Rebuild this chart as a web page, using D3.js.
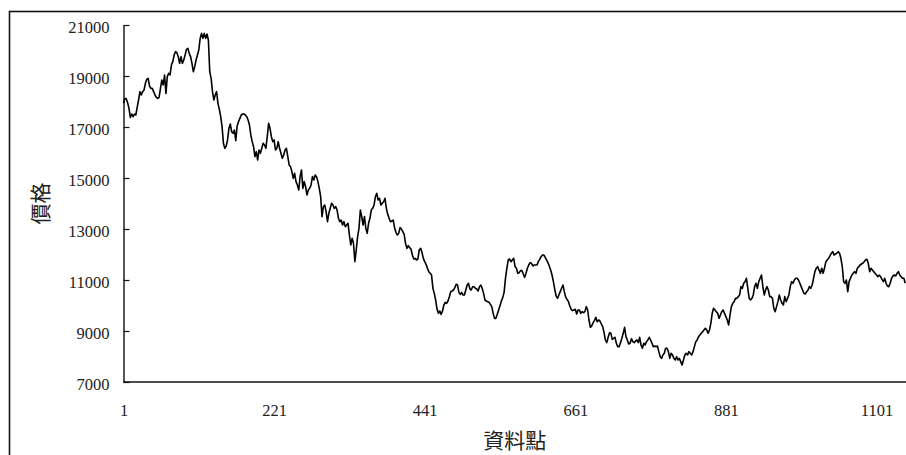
<!DOCTYPE html>
<html>
<head>
<meta charset="utf-8">
<script src="https://cdn.jsdelivr.net/npm/d3@7/dist/d3.min.js"></script>
<style>
  html, body { margin: 0; padding: 0; background: #fff; overflow: hidden; }
  svg { display: block; }
  .num { font-family: "Liberation Serif", "Times New Roman", serif; font-size: 16.5px; fill: #222; }
  .ttl { font-family: "Noto Sans CJK TC", "Noto Sans CJK SC", sans-serif; font-size: 21px; fill: #222; }
</style>
</head>
<body>
<svg id="chart" width="906" height="455"></svg>
<script>
// Price series, one value every second data point starting at point 1
const firstPoint = 1;
const pointStep = 2;
const price = [
  17928, 18111, 18111, 17954, 17732, 17379, 17510, 17405, 17510, 17470,
  17771, 18059, 18386, 18255, 18386, 18451, 18712, 18869, 18908, 18608,
  18516, 18516, 18386, 18255, 18163, 18124, 18163, 18516, 18843, 18647,
  19039, 18320, 18974, 19104,
  19039, 19431, 19562, 19823, 19954, 19915, 19758, 19497, 19758, 19497,
  19627, 19823, 20046, 20085, 19889, 19758, 19497, 19170, 19366, 19627,
  19823, 20020, 20477, 20673, 20477, 20673, 20477, 20647, 20412, 19170,
  18908, 18386, 18059, 18255, 18386, 17928, 17693, 17405,
  17013, 16359, 16163, 16255, 16490, 16948, 17118, 16817, 16752, 16882,
  16464, 17039, 17209, 17340, 17470, 17510, 17510, 17470, 17405, 17274, 17078,
  16687, 16425, 16229, 15837, 16033, 15706, 16098, 15968, 16164, 16360,
  16294, 16164, 16621, 17144, 16948, 16621, 16425, 16491, 16098, 16164,
  16425, 16164, 15968, 15772, 15902, 16098, 16164, 15837, 15510, 15445,
  15249, 14987, 15183, 14857, 14726, 14530, 15053, 15314,
  14595, 14857, 14660, 14334, 14530, 14595, 14726, 15053, 14922, 15118,
  15053, 14857, 14595, 14268, 13484, 13876, 13941, 13680, 13288, 13615,
  13811, 14007, 13941, 13811, 13876, 13745, 13419, 13288, 13353, 13157,
  13288, 13092, 13157, 13223, 12765, 12373, 12634, 12438,
  11719, 12177, 12700, 13026, 13745, 13484, 13157, 13484, 13026, 12830,
  13223, 13419, 13745, 13811, 13941, 14268, 14399, 14138, 14203,
  13941, 14006, 14071, 14202, 13810, 13575, 13418, 13287, 13313, 13352,
  13052, 12869, 12764, 12830, 13052, 12999, 12895, 12790, 12437, 12241,
  12346, 12267, 12215, 11980, 11823, 11849, 11784, 11823, 12176, 12241,
  12084, 11849, 11718, 11614, 11457, 11326, 11261, 11196,
  10673, 10477, 10215, 9862, 9692, 9784, 9653, 9784, 10019, 10124,
  10084, 10176, 10346, 10542, 10568, 10607, 10699, 10830, 10803, 10516,
  10437, 10516, 10411, 10411, 10607, 10803, 10869, 10647, 10607, 10738,
  10738, 10673, 10647, 10568, 10738, 10803, 10673, 10477,
  10215, 10176, 10150, 10124, 10045, 9954, 9692, 9496, 9496, 9653,
  9823, 9993, 10176, 10307, 10516, 11065, 11457, 11784, 11823,
  11719, 11785, 11850, 11523, 11458, 11262, 11288, 11366, 11366, 11236,
  11105, 11262, 11458, 11589, 11680, 11654, 11549, 11589, 11589, 11589,
  11719, 11811, 11915, 11981, 11981, 11889, 11785, 11680, 11549, 11393,
  11196, 10935, 10634, 10373, 10281, 10412, 10543, 10674,
  10804, 10543, 10321, 10242, 10151, 9981, 9850, 9798, 9824, 9850,
  9667, 9824, 9824, 9693, 9759, 9719, 9759, 9955, 9824, 9432,
  9144, 9196, 9327, 9406, 9536, 9366, 9432, 9393, 9275, 9170,
  8935, 8647, 8543, 8752, 8935, 8909, 8674, 8713,
  8752, 8517, 8386, 8386, 8543, 8713, 8909, 9144, 8778, 8647,
  8491, 8517, 8700, 8582, 8543, 8608, 8647, 8543, 8752,
  8451, 8321, 8517, 8451, 8582, 8647, 8752, 8647, 8517, 8386,
  8412, 8386, 8412, 8190, 7994, 7928, 8059, 8125, 8321, 8321,
  8190, 7928, 8125, 8059, 7928, 7863, 7994, 7863, 7928, 7798,
  7667, 7863, 8059, 8125, 8059, 8190, 8125, 8059,
  8190, 8386, 8582, 8647, 8778, 8843, 8909, 8974, 9040, 9105,
  9040, 8909, 9040, 9301, 9693, 9889, 9824, 9759, 9693, 9497,
  9628, 9759, 9824, 9693, 9562, 9432, 9236, 9628, 9955, 10085,
  10151, 10281, 10281, 10347, 10412, 10739, 10674, 10870,
  10935, 11066, 10674, 10281, 10216, 10281, 10412, 10739, 10870, 10674,
  10935, 11066, 11196, 10739, 10412, 10608, 10739, 10608, 10347,
  10347, 10281, 9889, 9759, 9955, 10151, 10412, 10216, 10085, 10020,
  10347, 10151, 10281, 10412, 10739, 10935, 10870, 11000, 11066, 11066,
  11000, 10870, 10739, 10608, 10477, 10451, 10543, 10608, 10739, 10674,
  10804, 11066, 11327, 11458, 11523, 11393, 11262, 11458,
  11262, 11458, 11719, 11785, 11850, 11942, 12046, 12111, 11981, 12020,
  12046, 12111, 12046, 11850, 11523, 10935, 10870, 11000, 10543, 10935,
  11066, 11196, 11262, 11327, 11262, 11458, 11523, 11589, 11628, 11654,
  11719, 11785, 11811, 11654, 11327, 11458, 11393, 11327,
  11262, 11196, 11131, 11196, 11131, 11027, 10935, 11066, 10870, 10765,
  10739, 10870, 11066, 11157, 11196, 11157, 11262, 11327, 11196, 11131,
  11066, 11066, 10870
];

const xTicks = [1, 221, 441, 661, 881, 1101];
const yTicks = [7000, 9000, 11000, 13000, 15000, 17000, 19000, 21000];
const xTitle = "資料點";
const yTitle = "價格";

const svg = d3.select("#chart");

// outer chart-area frame (its right and bottom run past the visible page)
svg.append("rect")
  .attr("x", 9.5).attr("y", 11.5)
  .attr("width", 1200).attr("height", 800)
  .attr("fill", "none").attr("stroke", "#111").attr("stroke-width", 1.6);

const x = d3.scaleLinear().domain([1, 1101]).range([123.5, 876.5]);
const y = d3.scaleLinear().domain([7000, 21000]).range([382, 25]);

// y axis with inward ticks
const yAxis = svg.append("g")
  .attr("transform", `translate(${x(1)},0)`)
  .call(d3.axisLeft(y).tickValues(yTicks).tickFormat(d3.format("d"))
    .tickSizeInner(-6).tickSizeOuter(0).tickPadding(14));
yAxis.select(".domain").attr("stroke", "#111").attr("stroke-width", 1.4);
yAxis.selectAll(".tick line").attr("stroke", "#111").attr("stroke-width", 1.2);
yAxis.selectAll(".tick text").attr("class", "num").attr("dy", "0.45em");
yAxis.attr("font-family", null).attr("font-size", null);

// x axis: labels only, baseline drawn across the full width
const xAxis = svg.append("g")
  .attr("transform", `translate(0,${y(7000)})`)
  .call(d3.axisBottom(x).tickValues(xTicks).tickFormat(d3.format("d"))
    .tickSize(0).tickPadding(22));
xAxis.select(".domain").remove();
xAxis.selectAll(".tick text").attr("class", "num");
xAxis.attr("font-family", null).attr("font-size", null);

svg.append("line")
  .attr("x1", x(1)).attr("x2", x(1150))
  .attr("y1", y(7000)).attr("y2", y(7000))
  .attr("stroke", "#111").attr("stroke-width", 1.4);

// price line
const line = d3.line()
  .x((d, i) => x(firstPoint + i * pointStep))
  .y(d => y(d));

svg.append("path")
  .datum(price)
  .attr("d", line)
  .attr("fill", "none")
  .attr("stroke", "#000")
  .attr("stroke-width", 1.6)
  .attr("stroke-linejoin", "round");

// axis titles
svg.append("text")
  .attr("class", "ttl")
  .attr("x", (x(1) + 906) / 2)
  .attr("y", 448)
  .attr("text-anchor", "middle")
  .text(xTitle);

svg.append("text")
  .attr("class", "ttl")
  .attr("transform", `translate(48,${(y(7000) + y(21000)) / 2}) rotate(-90)`)
  .attr("text-anchor", "middle")
  .text(yTitle);
</script>
</body>
</html>
